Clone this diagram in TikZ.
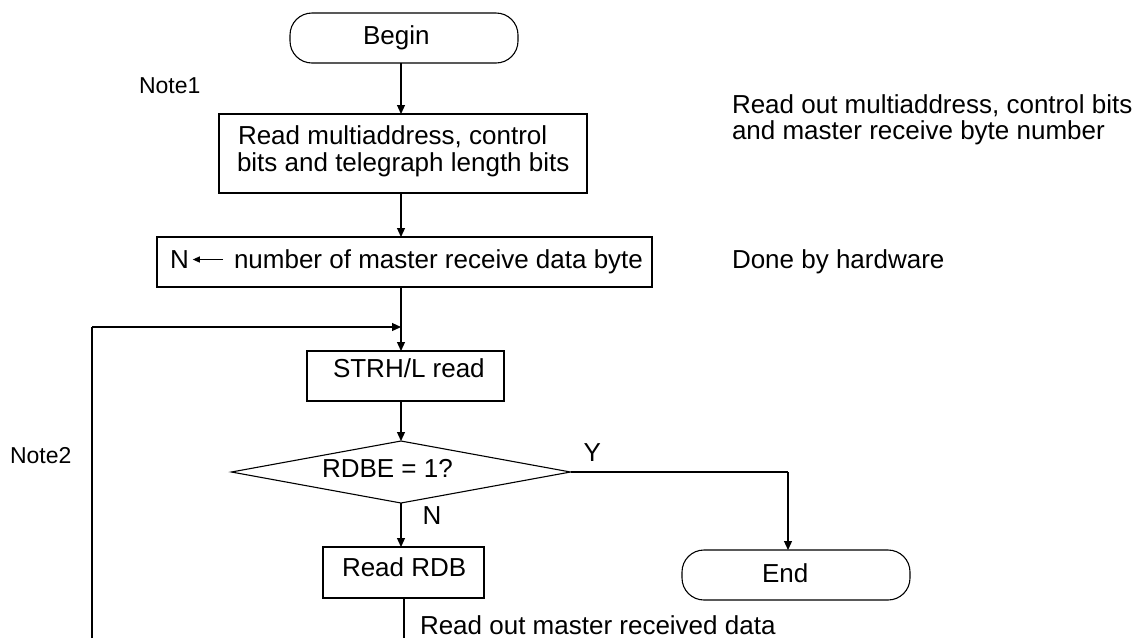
\documentclass[tikz,border=0pt]{standalone}
\usepackage{fontspec}
\setmainfont{Liberation Sans}
\usetikzlibrary{arrows.meta,shapes.geometric,calc}
\begin{document}
\begin{tikzpicture}[x=1pt,y=-1pt,
  every node/.style={font=\fontsize{26}{27}\selectfont, inner sep=0pt, outer sep=0pt},
  box/.style={draw, line width=1.8pt},
  term/.style={draw, line width=1.1pt, rounded corners=22pt},
  conn/.style={line width=1.2pt},
  arr/.style={conn, -{Triangle[length=9pt,width=8pt]}},
  txt/.style={anchor=base west},
  note/.style={anchor=base west, font=\fontsize{23}{27}\selectfont}]
\useasboundingbox (0,0) rectangle (1142,638);
\fill[white] (0,0) rectangle (1142,638);
\coordinate (col) at (401,0);

% terminals and boxes
\node[term, minimum width=228pt, minimum height=50pt] (begin) at (404,38) {};
\node[txt] (begint) at (363,44.5) {Begin};

\node[note] (note1) at (139,93) {Note1};

\node[box, minimum width=368pt, minimum height=79pt] (b1) at (403,153.5) {};
\node[txt] (b1t1) at (238,144.5) {Read multiaddress, control};
\node[txt] (b1t2) at (237,171.5) {bits and telegraph length bits};

\node[txt] (s1) at (732,113) {Read out multiaddress, control bits};
\node[txt] (s2) at (732,139) {and master receive byte number};

\node[box, minimum width=495pt, minimum height=50pt] (b2) at (404.5,262) {};
\node[txt] (nN) at (170,268.5) {N};
\node[txt] (nt) at (234,268.5) {number of master receive data byte};
\draw[line width=1pt, -{Triangle[length=7pt,width=6pt]}] ($(nt.base west)+(-11,-9)$) -- ($(nN.base east)+(4,-9)$);

\node[txt] (hw) at (732,268.5) {Done by hardware};

\node[box, minimum width=197pt, minimum height=50pt] (strh) at (405.5,376) {};
\node[txt] (strht) at (333,377.5) {STRH/L read};

\node[note] (note2) at (10,463) {Note2};

\node[draw, diamond, line width=1.1pt, minimum width=339pt, minimum height=62pt] (dia) at (401,472) {};
\node[txt] (diat) at (322,477.5) {RDBE = 1?};
\node[txt] (ylab) at (583.5,461.5) {Y};
\node[txt] (nlab) at (422.5,524.5) {N};

\node[box, minimum width=161pt, minimum height=51pt] (rdb) at (403.5,572.5) {};
\node[txt] (rdbt) at (342,576.5) {Read RDB};

\node[term, minimum width=228pt, minimum height=50pt] (endn) at (796,575) {};
\node[txt] (endt) at (762,582.5) {End};

\node[txt] (bt) at (420,634) {Read out master received data};

% connectors
\draw[arr] (begin.south -| col) -- (b1.north -| col);
\draw[arr] (b1.south -| col) -- (b2.north -| col);
\draw[arr] (b2.south -| col) -- (strh.north -| col);
\coordinate (loopbot) at (92,638);
\coordinate (loopc) at (92,327);
\draw[line width=2pt] (loopbot) -- (loopc);
\draw[arr] (loopc) -- (loopc -| col);
\draw[arr] (strh.south -| col) -- (dia.north);
\draw[arr] (dia.south) -- (rdb.north -| dia.south);
\coordinate (yc) at (788,472);
\draw[line width=1.8pt] (dia.east) -- (yc);
\draw[arr] (yc) -- (yc |- endn.north);
\coordinate (rdbbot) at (404,638);
\draw[conn] (rdb.south -| rdbbot) -- (rdbbot);
\end{tikzpicture}
\end{document}
